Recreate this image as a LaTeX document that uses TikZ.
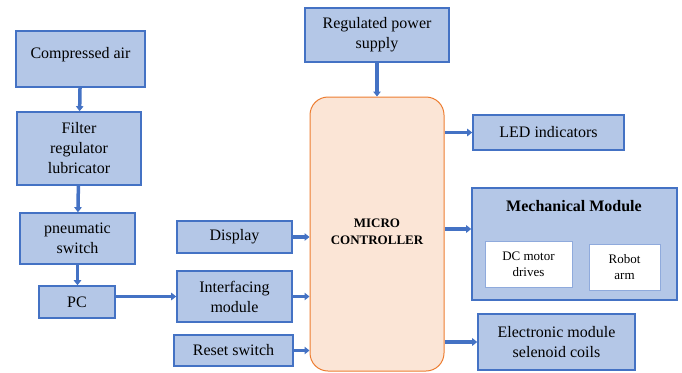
\documentclass[tikz,border=0pt]{standalone}
\usepackage{fontspec}
\setmainfont{Liberation Serif}
\usetikzlibrary{arrows.meta}
\definecolor{boxfill}{HTML}{B4C7E7}
\definecolor{boxline}{HTML}{4472C4}
\definecolor{mcfill}{HTML}{FBE5D6}
\definecolor{mcline}{HTML}{ED7D31}
\definecolor{innerline}{HTML}{8FAADC}
\begin{document}
\begin{tikzpicture}[x=1pt, y=-1pt, font=\rmfamily\fontsize{16}{20}\selectfont,
        >={Triangle[length=5pt,width=7.5pt]},
        blk/.style={draw=boxline, fill=boxfill, line width=1.6pt, align=center, inner sep=0pt},
        sub/.style={draw=innerline, fill=white, line width=1pt, align=center, inner sep=0pt,
            font=\rmfamily\fontsize{13}{16}\selectfont},
        flow/.style={->, draw=boxline, line width=3.5pt}]
        \useasboundingbox (0,0) rectangle (682,372);
        \node (air) at (80.5,59) [blk, minimum width=129pt, minimum height=56pt, text depth=13pt] {Compressed air};
        \node (frl) at (79,148.5) [blk, minimum width=124pt, minimum height=73pt] {Filter\\regulator\\lubricator};
        \node (pneu) at (77.5,238.5) [blk, minimum width=115pt, minimum height=51pt] {pneumatic\\switch};
        \node (pc) at (77,302) [blk, minimum width=76pt, minimum height=32pt] {PC};
        \node (disp) at (234.5,237) [blk, minimum width=115pt, minimum height=32pt] {Display};
        \node (intf) at (234.5,296.5) [blk, minimum width=115pt, minimum height=51pt] {Interfacing\\module};
        \node (reset) at (233.5,350.5) [blk, minimum width=119pt, minimum height=31pt] {Reset switch};
        \node (power) at (377,35) [blk, minimum width=144pt, minimum height=54pt] {Regulated power\\supply};
        \node (mc) at (377,234) [draw=mcline, fill=mcfill, line width=1pt, rounded corners=18pt,
            minimum width=134pt, minimum height=274pt] {};
        \node (mclabel) at (377,231.5) [align=center, font=\rmfamily\fontsize{13}{17}\selectfont\bfseries] {MICRO\\CONTROLLER};
        \node (led) at (548.5,132.5) [blk, minimum width=151pt, minimum height=35pt] {LED indicators};
        \node (mech) at (574.5,244) [blk, minimum width=205pt, minimum height=112pt] {};
        \node (mechtitle) at (574,206) [font=\rmfamily\fontsize{16}{20}\selectfont\bfseries] {Mechanical Module};
        \node (dc) at (528.5,264) [sub, minimum width=87pt, minimum height=46pt] {DC motor\\drives};
        \node (arm) at (624.5,267) [sub, minimum width=71pt, minimum height=46pt] {Robot\\arm};
        \node (elec) at (556.5,342) [blk, minimum width=157pt, minimum height=56pt] {Electronic module\\selenoid coils};
        \draw[flow] (air) -- (frl);
        \draw[flow] (frl) -- (pneu);
        \draw[flow] (pneu) -- (pneu |- pc.north);
        \draw[flow] (pc.east |- intf.west) -- (intf.west);
        \draw[flow] (disp.east) -- (disp.east -| mc.west);
        \draw[flow] (intf.east) -- (intf.east -| mc.west);
        \draw[flow] (reset.east) -- (reset.east -| mc.west);
        \draw[flow] (power) -- (mc);
        \draw[flow] (mc.east |- led.west) -- (led.west);
        \draw[flow] ([yshift=15pt]mech.west -| mc.east) -- ([yshift=15pt]mech.west);
        \draw[flow] (mc.east |- elec.west) -- (elec.west);
\end{tikzpicture}
\end{document}
